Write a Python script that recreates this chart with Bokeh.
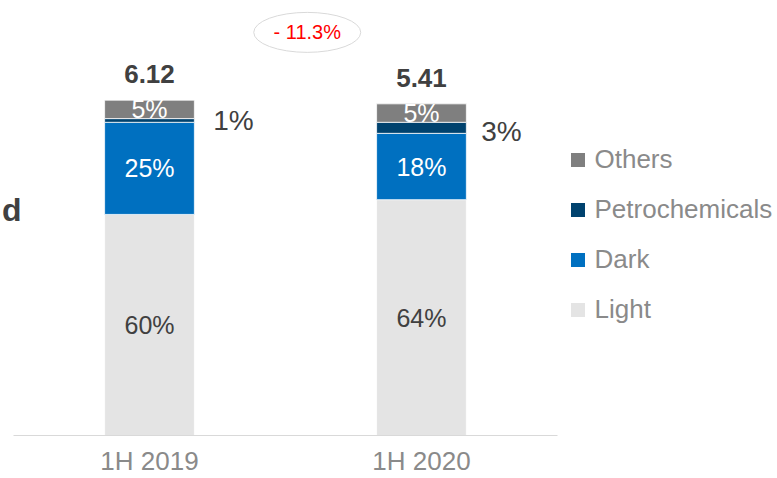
import numpy as np
from bokeh.plotting import figure
from bokeh.models import (ColumnDataSource, Range1d, Legend, LegendItem,
                          Label, FixedTicker)
from bokeh.core.properties import value
from bokeh.embed import file_html
from bokeh.resources import INLINE

# ---- data -------------------------------------------------------------
categories = ["1H 2019", "1H 2020"]
light = [60, 64]
dark = [25, 18]
petrochemicals = [1, 3]
others = [5, 5]
totals = ["6.12", "5.41"]
change_label = "- 11.3%"
side_label = "d"

series = ["Light", "Dark", "Petrochemicals", "Others"]
colors = ["#e4e4e4", "#0070c0", "#00426e", "#7f7f7f"]

FONT = "Liberation Sans"
DARK_TXT = "#404040"
GREY_TXT = "#8a8a8a"

xpos = list(range(len(categories)))

# ---- figure -----------------------------------------------------------
p = figure(width=777, height=478,
           x_range=Range1d(-0.5478, 2.309),
           y_range=Range1d(0, 118.05),
           output_backend="svg", toolbar_location=None,
           min_border_left=0, min_border_right=0,
           min_border_top=0, min_border_bottom=43)
p.yaxis.visible = False
p.grid.visible = False
p.outline_line_color = None
p.background_fill_color = "white"

src = ColumnDataSource(dict(x=xpos, cat=categories, Light=light, Dark=dark,
                            Petrochemicals=petrochemicals, Others=others))
bars = p.vbar_stack(series, x="x", width=0.33, source=src,
                    fill_color=colors, line_color="white", line_width=0.75)

vals = np.array([light, dark, petrochemicals, others], dtype=float)
tops = vals.cumsum(axis=0)
mids = tops - vals / 2

# inside labels
in_src = ColumnDataSource(dict(
    x=xpos * 3,
    y=list(mids[0]) + list(mids[1]) + list(mids[3]),
    text=[f"{v}%" for v in light + dark + others],
    color=[DARK_TXT] * 2 + ["white"] * 4,
))
p.text(x="x", y="y", text="text", text_color="color", source=in_src,
       text_align="center", text_baseline="middle",
       text_font=value(FONT), text_font_size="25px")

# petrochemicals labels outside the bars
out_src = ColumnDataSource(dict(
    x=xpos, y=list(mids[2]),
    text=[f"{v}%" for v in petrochemicals],
    dx=[84, 80],
    dy=[0, 4],
))
p.text(x="x", y="y", text="text", x_offset="dx", y_offset="dy",
       source=out_src,
       text_color=DARK_TXT, text_align="center", text_baseline="middle",
       text_font=value(FONT), text_font_size="28px")

# totals
tot_src = ColumnDataSource(dict(x=xpos, y=list(tops[3]), text=totals))
p.text(x="x", y="y", text="text", source=tot_src, y_offset=-26,
       text_color=DARK_TXT, text_align="center", text_baseline="middle",
       text_font=value(FONT), text_font_size="26px", text_font_style="bold")

# change badge (ellipse with red text)
BADGE_X, BADGE_Y = 0.58, 109.4
p.ellipse(x=[BADGE_X], y=[BADGE_Y], width=107, height=40,
          width_units="screen", height_units="screen",
          fill_color=None, line_color="#d9d9d9", line_width=1)
p.text(x=[BADGE_X], y=[BADGE_Y], text=[change_label], text_color="#ff0000",
       text_align="center", text_baseline="middle",
       text_font=value(FONT), text_font_size="20px")

# cut-off side label
p.add_layout(Label(x=1.5, y=225.5, x_units="screen", y_units="screen",
                   text=side_label, text_font=FONT, text_font_style="bold",
                   text_font_size="32px", text_color=DARK_TXT,
                   text_baseline="alphabetic"))

# x axis (line only under the bars' area)
ax = p.xaxis[0]
ax.ticker = FixedTicker(ticks=xpos)
ax.major_label_overrides = {i: c for i, c in zip(xpos, categories)}
ax.bounds = (-0.5, 1.5)
ax.axis_line_color = "#d9d9d9"
ax.axis_line_width = 1
ax.major_tick_line_color = None
ax.minor_tick_line_color = None
ax.major_tick_out = 0
ax.major_tick_in = 0
ax.major_label_text_font = FONT
ax.major_label_text_font_size = "26px"
ax.major_label_text_color = GREY_TXT
ax.major_label_standoff = 10

# legend (square markers); legend-only renderers hold no drawable point
items = []
for name, c in reversed(list(zip(series, colors))):
    r = p.scatter(x=[xpos[0]], y=[np.nan], marker="square", size=14,
                  fill_color=c, line_alpha=0)
    items.append(LegendItem(label=name, renderers=[r]))
legend = Legend(items=items, location=(559.5, 108.5),
                glyph_width=35, glyph_height=35, label_height=35,
                spacing=15, label_standoff=0, padding=0, margin=0,
                border_line_alpha=0, background_fill_alpha=0,
                label_text_font=FONT, label_text_font_size="26px",
                label_text_color=GREY_TXT, label_text_baseline="middle")
p.add_layout(legend, "center")

open("out.html", "w").write(file_html(p, INLINE))
